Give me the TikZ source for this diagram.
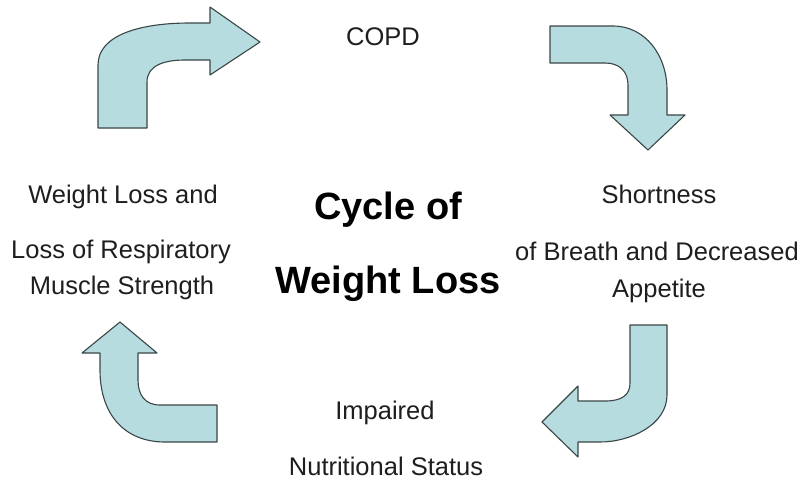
\documentclass[tikz,border=0pt]{standalone}
\usepackage{fontspec}
\setmainfont{Liberation Sans}
\definecolor{arrowfill}{HTML}{B6DCE0}
\definecolor{arrowline}{HTML}{3A4646}
\definecolor{txt}{HTML}{1E1E1E}
\begin{document}
\begin{tikzpicture}[x=1pt,y=-1pt,
  bentarrow/.style={fill=arrowfill,draw=arrowline,line width=1.1pt,line join=round},
  lbl/.style={text=txt,font=\fontsize{25.5}{30}\selectfont,inner sep=0pt,anchor=base},
  title/.style={text=black,font=\fontsize{38}{44}\bfseries\selectfont,inner sep=0pt,anchor=base}]
\fill[white] (0,0) rectangle (803,480);
\useasboundingbox (0,0) rectangle (803,480);
% top-left arrow
\draw[bentarrow] (98,128) -- (98,65) .. controls (98,35) and (140,23) .. (190,23) -- (210,23) -- (210,7) -- (260,42) -- (210,75) -- (210,60) -- (185,60) .. controls (165,60) and (147,65) .. (147,82) -- (147,128) -- cycle;
% top-right arrow
\draw[bentarrow] (550,26) -- (613,26) .. controls (645,26) and (667,55) .. (667,90) -- (667,115) -- (685,115) -- (648,150) -- (610,115) -- (628,115) -- (628,85) .. controls (628,72) and (620,63) .. (605,63) -- (550,63) -- cycle;
% bottom-right arrow
\draw[bentarrow] (630,325) -- (667,325) -- (667,395) .. controls (667,425) and (630,442) .. (600,442) -- (578,442) -- (578,457) -- (542,422) -- (578,386) -- (578,401) -- (605,401) .. controls (622,401) and (630,395) .. (630,383) -- cycle;
% bottom-left arrow
\draw[bentarrow] (217,405) -- (217,442) -- (165,442) .. controls (125,442) and (100,415) .. (100,370) -- (100,353) -- (82,353) -- (120,322) -- (157,353) -- (138,353) -- (138,380) .. controls (138,395) and (145,405) .. (160,405) -- cycle;
% labels
\node[lbl] (copd) at (383,45) {COPD};
\node[title] (cyc1) at (388,219) {Cycle of};
\node[title] (cyc2) at (388,293) {Weight Loss};
\node[lbl] (l1) at (123,203) {Weight Loss and};
\node[lbl] (l2) at (121,258) {Loss of Respiratory};
\node[lbl] (l3) at (122,294) {Muscle Strength};
\node[lbl] (r1) at (659,203) {Shortness};
\node[lbl] (r2) at (657,260) {of Breath and Decreased};
\node[lbl] (r3) at (659,297) {Appetite};
\node[lbl] (b1) at (385,419) {Impaired};
\node[lbl] (b2) at (386,475) {Nutritional Status};
\end{tikzpicture}
\end{document}
